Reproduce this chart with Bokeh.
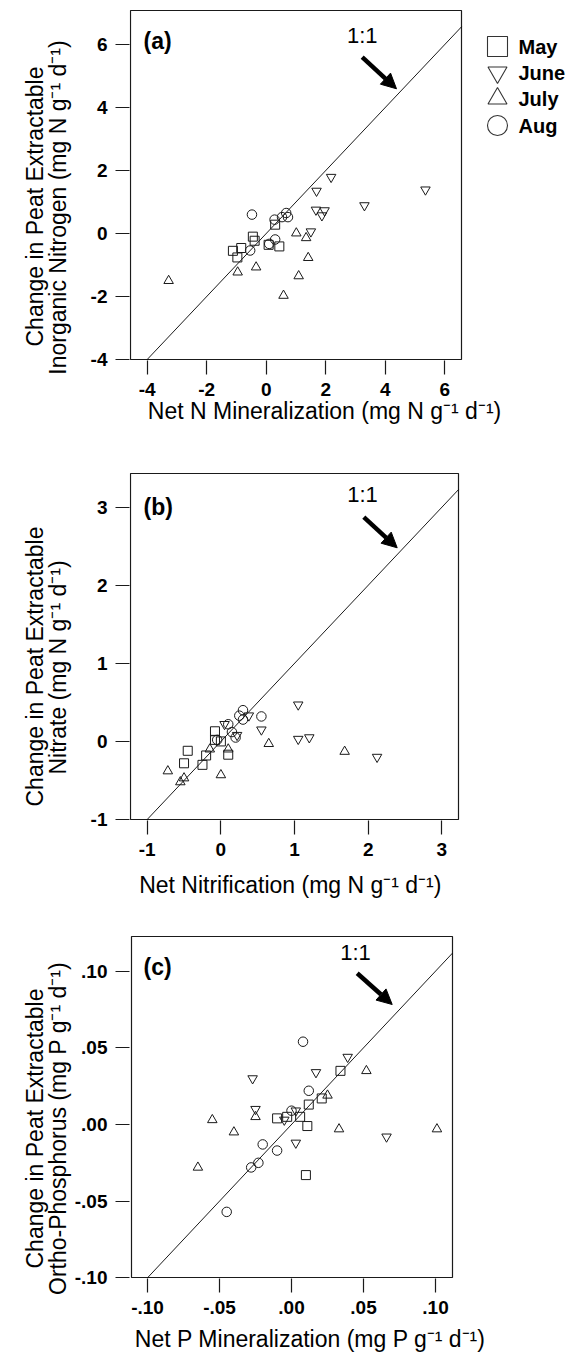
import numpy as np
from bokeh.plotting import figure
from bokeh.layouts import column
from bokeh.models import Range1d, FixedTicker, Label, Arrow, NormalHead
from bokeh.embed import file_html
from bokeh.resources import INLINE

# ---------------- data ----------------
months = ["May", "June", "July", "Aug"]
month_markers = ["square", "inverted_triangle", "triangle", "circle"]

# (a) Net N mineralization vs change in inorganic N
a_may_x = [0.30, -0.45, -0.39, 0.08, 0.44, -1.12, -0.84, -0.97]
a_may_y = [0.28, -0.10, -0.23, -0.36, -0.41, -0.55, -0.46, -0.76]
a_june_x = [1.50, 1.67, 1.96, 1.87, 1.69, 2.18, 3.30, 5.35]
a_june_y = [0.06, 0.75, 0.73, 0.57, 1.35, 1.79, 0.89, 1.39]
a_july_x = [1.01, 1.34, 1.41, 1.09, 0.58, -0.34, -0.96, -3.28]
a_july_y = [0.01, -0.14, -0.77, -1.35, -1.97, -1.07, -1.23, -1.50]
a_aug_x = [-0.48, 0.28, 0.53, 0.67, 0.73, 0.30, 0.10, -0.54]
a_aug_y = [0.60, 0.44, 0.52, 0.65, 0.52, -0.19, -0.33, -0.54]

# (b) Net nitrification vs change in nitrate
b_may_x = [-0.45, -0.50, -0.20, -0.25, -0.08, -0.08, 0.00, 0.10]
b_may_y = [-0.12, -0.28, -0.18, -0.30, 0.13, 0.02, 0.00, -0.17]
b_june_x = [0.05, 0.22, 0.38, 0.55, 1.05, 1.05, 1.20, 2.12]
b_june_y = [0.22, 0.08, 0.33, 0.15, 0.47, 0.03, 0.05, -0.20]
b_july_x = [-0.72, -0.55, -0.50, -0.15, 0.00, 0.10, 0.65, 1.68]
b_july_y = [-0.38, -0.52, -0.47, -0.10, -0.43, -0.10, -0.03, -0.13]
b_aug_x = [0.10, 0.25, 0.30, 0.30, 0.55, 0.15, 0.20, -0.05]
b_aug_y = [0.22, 0.33, 0.40, 0.28, 0.32, 0.12, 0.05, 0.02]

# (c) Net P mineralization vs change in ortho-phosphorus
c_may_x = [0.034, 0.021, 0.012, 0.006, -0.003, -0.010, 0.011, 0.010]
c_may_y = [0.035, 0.017, 0.013, 0.005, 0.005, 0.004, -0.001, -0.033]
c_june_x = [0.039, 0.017, -0.027, -0.025, 0.003, -0.005, 0.003, 0.066]
c_june_y = [0.044, 0.034, 0.030, 0.010, 0.009, 0.003, -0.012, -0.008]
c_july_x = [0.052, 0.025, 0.033, 0.101, -0.055, -0.040, -0.065, -0.025]
c_july_y = [0.035, 0.019, -0.003, -0.003, 0.003, -0.005, -0.028, 0.005]
c_aug_x = [0.008, 0.012, 0.000, -0.020, -0.010, -0.023, -0.028, -0.045]
c_aug_y = [0.054, 0.022, 0.009, -0.013, -0.017, -0.025, -0.028, -0.057]

a_ticks = [-4, -2, 0, 2, 4, 6]
a_tick_labels = {-4: "-4", -2: "-2", 0: "0", 2: "2", 4: "4", 6: "6"}
b_ticks = [-1, 0, 1, 2, 3]
b_tick_labels = {-1: "-1", 0: "0", 1: "1", 2: "2", 3: "3"}
c_ticks = [-0.10, -0.05, 0.0, 0.05, 0.10]
c_tick_labels = {-0.10: "-.10", -0.05: "-.05", 0.0: ".00", 0.05: ".05", 0.10: ".10"}

a_xtitle = "Net N Mineralization (mg N g\u207b\u00b9 d\u207b\u00b9)"
a_ytitle = ["Change in Peat Extractable", "Inorganic Nitrogen (mg N g\u207b\u00b9 d\u207b\u00b9)"]
b_xtitle = "Net  Nitrification (mg N g\u207b\u00b9 d\u207b\u00b9)"
b_ytitle = ["Change in Peat Extractable", "Nitrate (mg N g\u207b\u00b9 d\u207b\u00b9)"]
c_xtitle = "Net  P Mineralization (mg P g\u207b\u00b9 d\u207b\u00b9)"
c_ytitle = ["Change in Peat Extractable", "Ortho-Phosphorus (mg P g\u207b\u00b9 d\u207b\u00b9)"]

FONT = "Liberation Sans"
INK = "#1a1a1a"
PAGE_W = 570
TITLE_SIZE = "23px"
FRAME_LEFT = 129   # the same frame left edge for all panels (frames are aligned)


def lin(p, cal):
    p0, v0, p1, v1 = cal
    return v0 + (p - p0) * (v1 - v0) / (p1 - p0)


def setup(cfg):
    bl, bt, br, bb = cfg["box_px"]
    cfg["frame"] = (FRAME_LEFT, bt - 1, PAGE_W, bb + 1)
    cfg["xr"] = (lin(FRAME_LEFT, cfg["xcal"]), lin(PAGE_W, cfg["xcal"]))
    cfg["yr"] = (lin(bb + 1, cfg["ycal"]), lin(bt - 1, cfg["ycal"]))
    cfg["box"] = (lin(bl, cfg["xcal"]), lin(br, cfg["xcal"]),
                  lin(bb, cfg["ycal"]), lin(bt, cfg["ycal"]))
    return cfg


def px2d(cfg, px, py):
    return lin(px, cfg["xcal"]), lin(py, cfg["ycal"])


def make_panel(cfg, series, ticks, tick_labels):
    l, t, r, b = cfg["frame"]
    top, bottom = cfg["page_y"]
    p = figure(width=PAGE_W, height=bottom - top,
               x_range=Range1d(*cfg["xr"]), y_range=Range1d(*cfg["yr"]),
               output_backend="svg", toolbar_location=None,
               min_border_left=l, min_border_right=PAGE_W - r,
               min_border_top=t - top, min_border_bottom=bottom - b)
    p.grid.visible = False
    p.outline_line_color = None
    p.background_fill_color = "white"
    p.border_fill_color = "white"

    # plot box and the 1:1 line, both limited to the box
    bx0, bx1, by0, by1 = cfg["box"]
    p.quad(left=[bx0], right=[bx1], bottom=[by0], top=[by1], fill_color=None,
           line_color=INK, line_width=1.2)
    lo, hi = max(bx0, by0), min(bx1, by1)
    p.line([lo, hi], [lo, hi], line_color="black", line_width=0.9)

    for ax in (p.xaxis[0], p.yaxis[0]):
        ax.ticker = FixedTicker(ticks=ticks)
        ax.major_label_overrides = tick_labels
        ax.axis_line_color = None
        ax.major_tick_out = 14
        ax.major_tick_in = 0
        ax.minor_tick_out = 0
        ax.minor_tick_in = 0
        ax.major_tick_line_color = INK
        ax.major_tick_line_width = 1.2
        ax.major_label_text_font = FONT
        ax.major_label_text_font_style = "bold"
        ax.major_label_text_font_size = "19px"
        ax.major_label_text_color = "black"
        ax.major_label_standoff = 8

    sizes = {"square": 9, "inverted_triangle": 9.5, "triangle": 9.5, "circle": 9.5}
    for (xs, ys), mk in zip(series, month_markers):
        p.scatter(xs, ys, marker=mk, size=sizes[mk], fill_color=None,
                  line_color=INK, line_width=1)

    # panel letter, 1:1 text, arrow
    lx, ly = px2d(cfg, *cfg["letter"])
    p.add_layout(Label(x=lx, y=ly, text=cfg["name"], text_font=FONT, text_font_style="bold",
                       text_font_size="23px", text_align="left", text_baseline="middle",
                       text_color="black"))
    ox, oy = px2d(cfg, *cfg["one"])
    p.add_layout(Label(x=ox, y=oy, text="1:1", text_font=FONT, text_font_size="22px",
                       text_align="center", text_baseline="middle", text_color="black"))
    sx, sy = px2d(cfg, *cfg["arrow"][0])
    ex, ey = px2d(cfg, *cfg["arrow"][1])
    p.add_layout(Arrow(x_start=sx, y_start=sy, x_end=ex, y_end=ey, line_width=4.5,
                       line_color="black",
                       end=NormalHead(size=15, fill_color="black", line_color="black",
                                      line_width=1)))

    # axis titles (in side panels, so they are not clipped to the frame)
    tx, ty = px2d(cfg, *cfg["xtitle_pos"])
    p.add_layout(Label(x=tx, y=ty, text=cfg["xtitle"], text_font=FONT,
                       text_font_size=TITLE_SIZE, text_align="center",
                       text_baseline="middle", text_color="black"), "below")
    for txt, pos in zip(cfg["ytitle"], cfg["ytitle_pos"]):
        yx, yy = px2d(cfg, *pos)
        p.add_layout(Label(x=yx, y=yy, text=txt, text_font=FONT, text_font_size=TITLE_SIZE,
                           angle=np.pi / 2, text_align="center", text_baseline="middle",
                           text_color="black"), "left")
    return p


cfg_a = setup(dict(name="(a)", page_y=(0, 440), box_px=(130, 10, 461, 359),
                   xcal=(146.7, -4, 444.3, 6), ycal=(359, -4, 44, 6),
                   letter=(143, 40.5), one=(361.7, 35), arrow=((361.7, 56.7), (396, 88.3)),
                   xtitle=a_xtitle, xtitle_pos=(324, 410),
                   ytitle=a_ytitle, ytitle_pos=[(34, 206), (57, 207)]))
cfg_b = setup(dict(name="(b)", page_y=(440, 900), box_px=(130, 473, 458, 819),
                   xcal=(146.7, -1, 441.4, 3), ycal=(819, -1, 506.7, 3),
                   letter=(143, 506.5), one=(362, 494), arrow=((363.3, 516.7), (396.7, 547.3)),
                   xtitle=b_xtitle, xtitle_pos=(293, 884),
                   ytitle=b_ytitle, ytitle_pos=[(34, 666), (57, 667)]))
cfg_c = setup(dict(name="(c)", page_y=(900, 1360), box_px=(131, 936, 452, 1277),
                   xcal=(147, -0.10, 435, 0.10), ycal=(1277.3, -0.10, 970.7, 0.10),
                   letter=(143, 966), one=(355, 952), arrow=((356.7, 972.7), (391.7, 1004)),
                   xtitle=c_xtitle, xtitle_pos=(313, 1338),
                   ytitle=c_ytitle, ytitle_pos=[(34, 1128), (57, 1128)]))

pa = make_panel(cfg_a, [(a_may_x, a_may_y), (a_june_x, a_june_y), (a_july_x, a_july_y),
                        (a_aug_x, a_aug_y)], a_ticks, a_tick_labels)
pb = make_panel(cfg_b, [(b_may_x, b_may_y), (b_june_x, b_june_y), (b_july_x, b_july_y),
                        (b_aug_x, b_aug_y)], b_ticks, b_tick_labels)
pc = make_panel(cfg_c, [(c_may_x, c_may_y), (c_june_x, c_june_y), (c_july_x, c_july_y),
                        (c_aug_x, c_aug_y)], c_ticks, c_tick_labels)

# ---------------- legend (inside panel a's frame, right of the box) ----------------
leg_cx = 497
leg_text_x = 518
leg_rows = [46, 72, 98, 125]
leg_sizes = {"square": 20, "inverted_triangle": 19, "triangle": 19, "circle": 20}
for name, mk, ry in zip(months, month_markers, leg_rows):
    gx, gy = px2d(cfg_a, leg_cx, ry)
    pa.scatter([gx], [gy], marker=mk, size=leg_sizes[mk], fill_color=None,
               line_color="#333333", line_width=1.1)
    lx, ly = px2d(cfg_a, leg_text_x, ry)
    pa.add_layout(Label(x=lx, y=ly, text=name, text_font=FONT, text_font_style="bold",
                        text_font_size="20px", text_align="left", text_baseline="middle",
                        text_color="black"))

layout = column(pa, pb, pc, spacing=0)
open("out.html", "w").write(file_html(layout, INLINE))
